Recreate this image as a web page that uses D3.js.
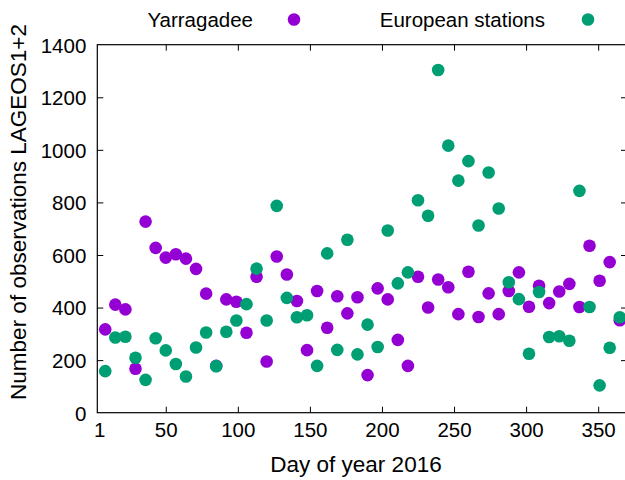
<!DOCTYPE html>
<html>
<head>
<meta charset="utf-8">
<script src="https://cdn.jsdelivr.net/npm/d3@7"></script>
<style>
  html, body { margin: 0; padding: 0; background: #fff; }
  svg { display: block; font-family: "Liberation Sans", Arial, Helvetica, sans-serif; }
</style>
</head>
<body>
<svg id="chart" width="625" height="480"></svg>
<script>
// Weekly observation counts of LAGEOS-1 and LAGEOS-2 during 2016
const days = [8, 15, 22, 29, 36, 43, 50, 57, 64, 71, 78, 85, 92, 99, 106, 113, 120,
  127, 134, 141, 148, 155, 162, 169, 176, 183, 190, 197, 204, 211, 218, 225, 232,
  239, 246, 253, 260, 267, 274, 281, 288, 295, 302, 309, 316, 323, 330, 337, 344,
  351, 358, 365];

const yarragadee = [317, 411, 393, 167, 727, 627, 590, 603, 586, 547, 453, 178,
  431, 422, 304, 517, 195, 594, 526, 425, 238, 463, 323, 443, 378, 439, 143, 473,
  431, 277, 178, 517, 400, 507, 477, 375, 536, 364, 454, 375, 463, 534, 403, 483,
  417, 461, 490, 402, 635, 502, 573, 352];

const european = [158, 286, 289, 209, 125, 283, 237, 185, 138, 248, 305, 177,
  308, 351, 413, 548, 351, 787, 437, 363, 371, 178, 606, 239, 658, 222, 335, 250,
  693, 492, 534, 808, 749, 1304, 1016, 883, 957, 712, 914, 777, 496, 432, 224, 459,
  288, 291, 274, 844, 402, 104, 247, 363];

const seriesNames = ["Yarragadee", "European stations"];
const seriesColors = ["#9400d3", "#009e73"];

const xTicks = [1, 50, 100, 150, 200, 250, 300, 350];
const yTicks = [0, 200, 400, 600, 800, 1000, 1200, 1400];

const xLabel = "Day of year 2016";
const yLabel = "Number of observations LAGEOS1+2";

const svg = d3.select("#chart");
const plot = { left: 97.3, right: 627, top: 44.7, bottom: 412.7 };

const x = d3.scaleLinear().domain([2.5, 370]).range([plot.left, plot.right]).clamp(true);
const y = d3.scaleLinear().domain([0, 1400]).range([plot.bottom, plot.top]);

const tickFont = "20.5px";
const tickLen = 6;
const intFmt = d3.format("d");

// bottom axis
const xAxis = svg.append("g")
  .attr("transform", `translate(0,${plot.bottom})`)
  .call(d3.axisBottom(x).tickValues(xTicks).tickSize(-tickLen).tickPadding(10).tickFormat(intFmt));
// top mirror ticks
const xAxisTop = svg.append("g")
  .attr("transform", `translate(0,${plot.top})`)
  .call(d3.axisTop(x).tickValues(xTicks.slice(1)).tickSize(-tickLen).tickFormat(""));
// left axis
const yAxis = svg.append("g")
  .attr("transform", `translate(${plot.left},0)`)
  .call(d3.axisLeft(y).tickValues(yTicks).tickSize(-tickLen).tickPadding(11).tickFormat(intFmt));
// right mirror ticks
const yAxisRight = svg.append("g")
  .attr("transform", `translate(${plot.right},0)`)
  .call(d3.axisRight(y).tickValues(yTicks.slice(1, -1)).tickSize(-tickLen).tickFormat(""));

[xAxis, xAxisTop, yAxis, yAxisRight].forEach(g => {
  g.select(".domain").remove();
  g.selectAll(".tick line").attr("stroke", "#000").attr("stroke-width", 1);
  g.selectAll(".tick text")
    .attr("fill", "#000")
    .style("font-size", tickFont)
    .style("font-family", '"Liberation Sans", Arial, sans-serif');
});
// the corner tick "1" sits on the border; keep only its label
xAxis.selectAll(".tick").filter(d => d === 1).select("line").remove();
xAxis.selectAll(".tick").filter(d => d === 1).select("text").attr("dx", "2");
yAxis.selectAll(".tick").filter(d => d === 0 || d === 1400).select("line").remove();
yAxis.selectAll(".tick text").attr("dy", "0.36em");

// border
svg.append("rect")
  .attr("x", plot.left).attr("y", plot.top)
  .attr("width", plot.right - plot.left).attr("height", plot.bottom - plot.top)
  .attr("fill", "none").attr("stroke", "#000").attr("stroke-width", 1.2);

// points
const series = [yarragadee, european];
series.forEach((vals, si) => {
  svg.append("g").selectAll("circle")
    .data(vals)
    .join("circle")
    .attr("cx", (d, i) => x(days[i]))
    .attr("cy", d => y(d))
    .attr("r", 6.3)
    .attr("fill", seriesColors[si]);
});

// legend
const legendTextRight = [253, 545];
const legendDotX = [294, 588];
seriesNames.forEach((name, i) => {
  svg.append("text")
    .attr("x", legendTextRight[i]).attr("y", 26.5)
    .attr("text-anchor", "end")
    .style("font-size", "20.5px")
    .attr("fill", "#000")
    .text(name);
  svg.append("circle")
    .attr("cx", legendDotX[i]).attr("cy", 19.5)
    .attr("r", 6.3)
    .attr("fill", seriesColors[i]);
});

// axis titles
svg.append("text")
  .attr("x", 356).attr("y", 472)
  .attr("text-anchor", "middle")
  .style("font-size", "22.5px")
  .attr("fill", "#000")
  .text(xLabel);

svg.append("text")
  .attr("transform", "translate(26,212) rotate(-90)")
  .attr("text-anchor", "middle")
  .style("font-size", "22.5px")
  .attr("fill", "#000")
  .text(yLabel);
</script>
</body>
</html>
